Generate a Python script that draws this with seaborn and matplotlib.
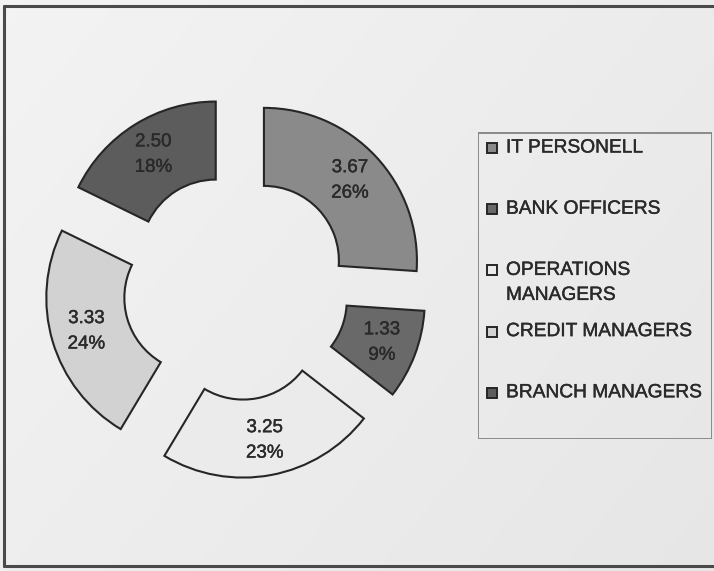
import numpy as np
import matplotlib
matplotlib.use("Agg")
import matplotlib.pyplot as plt
import matplotlib.patheffects as pe
from matplotlib.lines import Line2D
from matplotlib.patches import Rectangle
import seaborn as sns

# Average scores per staff group
groups = ["IT PERSONELL", "BANK OFFICERS", "OPERATIONS\nMANAGERS",
          "CREDIT MANAGERS", "BRANCH MANAGERS"]
scores = [3.67, 1.33, 3.25, 3.33, 2.50]
shades = ["#8a8a8a", "#696969", "#ebebeb", "#d2d2d2", "#5c5c5c"]

sns.set_theme(style="white")
plt.rcParams["font.family"] = ["Liberation Sans", "DejaVu Sans"]

W, H = 714, 571
fig = plt.figure(figsize=(W / 100, H / 100), dpi=100)
fig.patch.set_facecolor("#e6e6e6")

# paper tone, a little lighter towards the upper left
bg = fig.add_axes([0, 0, 1, 1], zorder=-5)
yy, xx = np.mgrid[0:1:60j, 0:1:80j]
tone = 0.95 - 0.05 * (0.6 * xx + 0.4 * yy)
bg.imshow(tone, cmap="gray", vmin=0, vmax=1, aspect="auto",
          extent=[0, 1, 0, 1], interpolation="bilinear")
bg.set_axis_off()

heavy = [pe.withStroke(linewidth=0.3, foreground="#2a2a2a")]

# doughnut: one unit of radius = 153 px, centre at (236, 287) px from top-left
unit = 153.0
cx, cy = 236.0, H - 287.0
ax = fig.add_axes([0, 0, 1, 1])
ax.patch.set_alpha(0)
ring = 0.51
wedges, _ = ax.pie(scores, colors=shades, startangle=90, counterclock=False,
                   explode=[0.25] * len(scores), radius=1.0,
                   wedgeprops=dict(width=ring, edgecolor="#262626",
                                   linewidth=1.5))
ax.set_xlim(-cx / unit, (W - cx) / unit)
ax.set_ylim(-cy / unit, (H - cy) / unit)
ax.set_aspect("auto")
ax.set_axis_off()

total = sum(scores)
mid_r = 0.77
for w, v in zip(wedges, scores):
    ang = np.deg2rad((w.theta1 + w.theta2) / 2)
    x0, y0 = w.center
    ax.text(x0 + mid_r * np.cos(ang), y0 + mid_r * np.sin(ang),
            f"{v:.2f}\n{round(v / total * 100):.0f}%",
            ha="center", va="center", fontsize=13.5, linespacing=1.65,
            color="#2a2a2a", path_effects=heavy)

# legend panel
lx0, ly0, lx1, ly1 = 478, 132, 712, 439
lg = fig.add_axes([lx0 / W, 1 - ly1 / H, (lx1 - lx0) / W, (ly1 - ly0) / H])
lg.set_xlim(0, lx1 - lx0)
lg.set_ylim(ly1 - ly0, 0)
lg.set_axis_off()
lg.add_patch(Rectangle((0.5, 0.5), lx1 - lx0 - 1, ly1 - ly0 - 1,
                       facecolor="none", edgecolor="#8a8a8a", linewidth=1.4))
slot = 61.2
for i, (name, col) in enumerate(zip(groups, shades)):
    yc = 16 + slot * i
    lg.add_patch(Rectangle((9, yc - 5), 10, 10, facecolor=col,
                           edgecolor="#262626", linewidth=1.4))
    for k, line in enumerate(name.split("\n")):
        lg.text(28, yc + 25 * k, line, ha="left", va="center",
                fontsize=13.8, color="#2a2a2a", path_effects=heavy)

# outer frame (left, top, bottom)
for xs, ys in [([4, 4], [6, 566]), ([4, 714], [6, 6]), ([4, 714], [566, 566])]:
    fig.add_artist(Line2D([x / W for x in xs], [1 - y / H for y in ys],
                          color="#4a4a4a", linewidth=2.2,
                          transform=fig.transFigure))

fig.savefig("out.png", dpi=100, facecolor=fig.get_facecolor())
